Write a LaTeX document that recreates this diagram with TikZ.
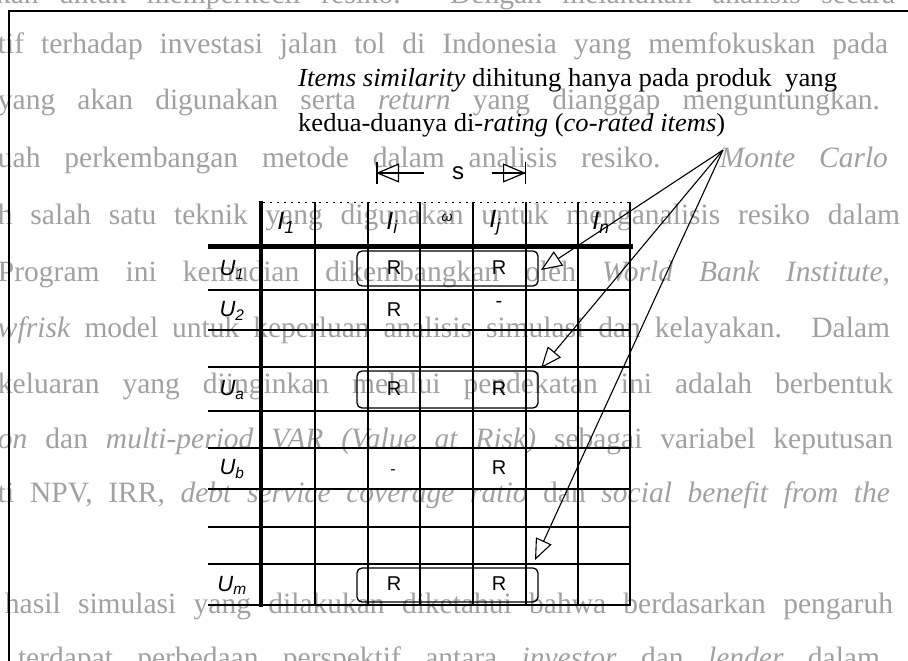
\documentclass[tikz,border=0pt]{standalone}
\usepackage{fontspec}
\setmainfont{Liberation Serif}
\newfontfamily\lsans{Liberation Sans}
\usepackage{graphicx}
\usetikzlibrary{arrows.meta}
\definecolor{bgc}{gray}{0.63}
\newcommand\bgl[4]{\node[bgtext] (#1) at (#2) {\makebox[#3pt][s]{#4}};}
\begin{document}
\begin{tikzpicture}[x=1pt,y=-1pt,
 bgtext/.style={anchor=base west,inner sep=0,outer sep=0,text=bgc,font=\fontsize{29.5}{32}\selectfont},
 captext/.style={anchor=base west,inner sep=0,font=\fontsize{26}{30}\selectfont},
 hdr/.style={inner sep=0,font=\lsans\itshape\fontsize{25}{28}\selectfont},
 rowlab/.style={inner sep=0,font=\lsans\itshape\fontsize{22}{25}\selectfont},
 cell/.style={inner sep=0,font=\lsans\fontsize{20}{24}\selectfont},
 gline/.style={line width=1.8pt},
 thickline/.style={line width=4.5pt},
 brk/.style={line width=1.3pt,rounded corners=5pt},
 pointer/.style={line width=1.1pt,-{Triangle[fill=white,length=21pt,width=17pt,line width=1.1pt]}},
 stri/.style={line width=1.2pt,-{Triangle[fill=white,length=23pt,width=19pt,line width=1.2pt]}},
 sbar/.style={line width=1.2pt,-{Bar[width=22pt,line width=1.5pt]}},
]
\useasboundingbox (0,0) rectangle (908,661);
\fill[white] (0,0) rectangle (908,661);

% faded page text behind the figure
\bgl{t0}{-4,4}{899}{kan untuk memperkecil resiko. Dengan melakukan analisis secara}
\bgl{t1}{-2,54}{890}{tif terhadap investasi jalan tol di Indonesia yang memfokuskan pada}
\bgl{t2}{-2,110}{882}{yang akan digunakan serta \textit{return} yang dianggap menguntungkan.}
\bgl{t3}{-2,167}{890}{uah perkembangan metode dalam analisis resiko. \textit{Monte Carlo}}
\bgl{t4}{-2,224}{902}{h salah satu teknik yang digunakan untuk menganalisis resiko dalam}
\bgl{t5}{-2,281}{892}{Program ini kemudian dikembangkan oleh \textit{World Bank Institute},}
\bgl{t6}{-2,337}{892}{\textit{wfrisk} model untuk keperluan analisis simulasi dan kelayakan. Dalam}
\bgl{t7}{-2,393}{895}{keluaran yang diinginkan melalui pendekatan ini adalah berbentuk}
\bgl{t8}{-2,448}{895}{\textit{on} dan \textit{multi-period VAR (Value at Risk)} sebagai variabel keputusan}
\bgl{t9}{-2,502}{892}{ti NPV, IRR, \textit{debt service coverage ratio} dan \textit{social benefit from the}}
\bgl{t11}{5,613}{888}{hasil simulasi yang dilakukan diketahui bahwa berdasarkan pengaruh}
\bgl{t12}{18,667}{862}{terdapat perbedaan perspektif antara \textit{investor} dan \textit{lender} dalam}

% frame
\draw[line width=1.6pt] (9,661) -- (9,11) -- (908,11);

% caption
\node[captext] (cap1) at (298,86) {\resizebox{539pt}{\height}{\textit{Items similarity} dihitung hanya pada produk\ \ yang}};
\node[captext] (cap2) at (298,131) {\resizebox{427pt}{\height}{kedua-duanya di-\textit{rating} (\textit{co-rated items})}};

% s span
\node[inner sep=0,minimum width=67pt,font=\lsans\fontsize{24}{28}\selectfont] (s) at (458,173) {s};
\coordinate (sL) at (376,173);
\coordinate (sR) at (526,173);
\draw[stri] (s.west) -- (sL);
\draw[sbar] (s.west) -- (sL);
\draw[stri] (s.east) -- (sR);
\draw[sbar] (s.east) -- (sR);

% grid
\draw[line width=0.8pt,dash pattern=on 2pt off 5pt] (263,202) -- (630,202);
\foreach \x in {315,368,420,473,526,578,630} \draw[gline] (\x,202) -- (\x,605);
\foreach \y in {290,330,367,411,448,489,527,564,605} \draw[gline] (208,\y) -- (631,\y);
\draw[thickline] (261,201) -- (261,607);
\draw[line width=5pt] (208,246) -- (633,246);

% headers
\node[hdr] (hI1) at (286,223) {I\textsubscript{1}};
\node[hdr] (hIi) at (392,223) {I\textsubscript{i}};
\node[inner sep=0,font=\lsans\itshape\fontsize{14}{16}\selectfont] (hmid) at (447,218) {ω};
\node[hdr] (hIj) at (495,223) {I\textsubscript{j}};
\node[hdr] (hIn) at (601,223) {I\textsubscript{n}};

% row labels
\node[rowlab] (u1) at (232,270) {U\textsubscript{1}};
\node[rowlab] (u2) at (232,311) {U\textsubscript{2}};
\node[rowlab] (ua) at (232,390) {U\textsubscript{a}};
\node[rowlab] (ub) at (232,469) {U\textsubscript{b}};
\node[rowlab] (um) at (232,585) {U\textsubscript{m}};

% brackets of co-rated pairs
\draw[brk] (357,251) rectangle (538,286);
\draw[brk] (357,371) rectangle (538,408);
\draw[brk] (357,568) rectangle (538,602);

% cells
\node[cell] (r11) at (394,268) {R};
\node[cell] (r1j) at (499,268) {R};
\node[cell] (r21) at (394,310) {R};
\node[cell] (r2j) at (499,304) {-};
\node[cell] (ra1) at (394,389) {R};
\node[cell] (raj) at (499,389) {R};
\node[cell,font=\lsans\fontsize{16}{18}\selectfont] (rb1) at (393,472) {-};
\node[cell] (rbj) at (499,468) {R};
\node[cell] (rm1) at (394,584) {R};
\node[cell] (rmj) at (499,584) {R};

% pointers
\coordinate (apex) at (723,150);
\coordinate (p1) at (541,270);
\coordinate (p2) at (541,368);
\coordinate (p3) at (535,560);
\draw[pointer] (apex) -- (p1);
\draw[pointer] (apex) -- (p2);
\draw[pointer] (apex) -- (p3);
\end{tikzpicture}
\end{document}
